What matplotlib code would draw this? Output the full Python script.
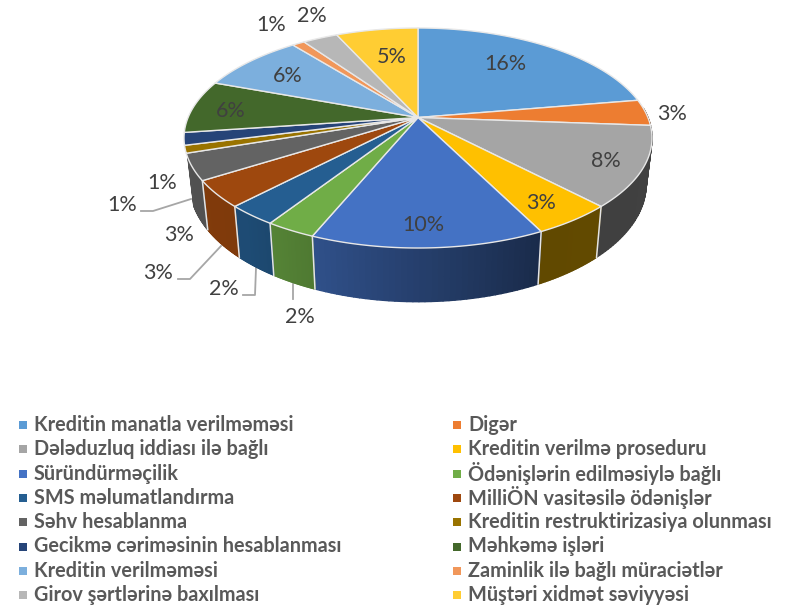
import matplotlib
matplotlib.use('Agg')
import matplotlib.pyplot as plt
import numpy as np
from matplotlib.collections import PolyCollection
from matplotlib.colors import to_rgb

plt.rcParams['font.family'] = ['Lato', 'Open Sans', 'DejaVu Sans']

# data, clockwise from 12 o'clock
categories = ['Kreditin manatla verilməməsi', 'Digər', 'Dələduzluq iddiası ilə bağlı',
              'Kreditin verilmə proseduru', 'Süründürməçilik', 'Ödənişlərin edilməsiylə bağlı',
              'SMS məlumatlandırma', 'MilliÖN vasitəsilə ödənişlər', 'Səhv hesablanma',
              'Kreditin restruktirizasiya olunması', 'Gecikmə cəriməsinin hesablanması',
              'Məhkəmə işləri', 'Kreditin verilməməsi', 'Zaminlik ilə bağlı müraciətlər',
              'Girov şərtlərinə baxılması', 'Müştəri xidmət səviyyəsi']
values = [16.05, 2.76, 8.44, 3.4, 9.76, 2.1, 2.14, 2.8, 2.78, 0.8, 1.32, 5.6, 6.24, 0.74, 2.08, 4.88]
colors = ['#5B9BD5', '#ED7D31', '#A5A5A5', '#FFC000', '#4472C4', '#70AD47', '#255E91', '#9E480E',
          '#636363', '#997300', '#264478', '#43682B', '#7CAFDD', '#F1975A', '#B7B7B7', '#FFCD33']

# pixel position of each percent label
label_x = [505, 672, 606, 541, 423, 300, 224, 158, 179, 122, 162, 231, 288, 271, 312, 392]
label_y = [64, 114, 161, 203, 225, 317, 289, 273, 235, 205, 183, 111, 76, 25, 16, 57]

# leader lines
leaders = [[(293, 284), (293, 299)],
           [(256, 268), (255, 295), (243, 295)],
           [(221, 246), (190, 279), (178, 279)],
           [(191, 199), (153, 211), (141, 211)]]

# the top of the pie is a tilted circle seen in perspective
cx, cy = 418, 138
ry = 110
shift = 20.5
k = shift / ry
c = 229.9

def top_xy(theta):
    x, y = np.cos(theta), np.sin(theta)
    return c * x / (1 + k * y), (ry * y + shift) / (1 + k * y)

def to_px(X, Y):
    return cx + X, cy - Y

def bottom_xy(theta):
    X, Y = top_xy(theta)
    return X * 0.975, Y * 1.07 - 46

fig = plt.figure(figsize=(7.85, 6.06), dpi=100, facecolor='white')
ax = fig.add_axes([0, 0, 1, 1])
ax.set_xlim(0, 785)
ax.set_ylim(606, 0)
ax.axis('off')

total = sum(values)
edges = np.pi / 2 - 2 * np.pi * np.cumsum([0] + values) / total

# side of the pie, darker towards the right
shade_deg = [-165, -130, -112, -64, 0]
shade_val = [0.83, 0.80, 0.70, 0.38, 0.40]
side_from, side_to = -159, 5

for i in range(len(values)):
    t = np.linspace(edges[i], edges[i + 1], 40)
    polys, cols = [], []
    base = np.array(to_rgb(colors[i]))
    for a, b in zip(t[:-1], t[1:]):
        deg = np.degrees((a + b) / 2)
        if deg < side_from or deg > side_to:
            continue
        polys.append([to_px(*top_xy(a)), to_px(*top_xy(b)), to_px(*bottom_xy(b)), to_px(*bottom_xy(a))])
        cols.append(base * np.interp(deg, shade_deg, shade_val))
    if polys:
        ax.add_collection(PolyCollection(polys, facecolors=cols, edgecolors=cols, linewidths=1.0, zorder=2))

# white seams between the side pieces
for e in edges[1:]:
    if side_from < np.degrees(e) < -5:
        p1 = to_px(*top_xy(e))
        p2 = to_px(*bottom_xy(e))
        ax.plot([p1[0], p2[0]], [p1[1], p2[1]], color='#E4E4E4', lw=1.1, zorder=3)

# top face
apex = to_px(0, shift)
for i in range(len(values)):
    t = np.linspace(edges[i], edges[i + 1], 80)
    xs, ys = to_px(*top_xy(t))
    ax.fill(np.r_[apex[0], xs], np.r_[apex[1], ys], facecolor=colors[i], edgecolor='#E8E8E8', lw=1.0, zorder=4, joinstyle='round')

# percent labels
for v, x, y in zip(values, label_x, label_y):
    ax.text(x, y, f'{v:.0f}%', ha='center', va='center', fontsize=15.5, color='#404040', zorder=6)

for line in leaders:
    ax.plot([p[0] for p in line], [p[1] for p in line], color='#A6A6A6', lw=1.3, zorder=1)

# legend, two columns, row by row
col_x = [23, 457]
row_y = 425
row_step = 24.3
for i, name in enumerate(categories):
    lx = col_x[i % 2]
    ly = row_y + (i // 2) * row_step
    ax.scatter([lx], [ly], marker='s', s=30, color=colors[i], linewidths=0, zorder=6)
    ax.text(lx + 11, ly, name, ha='left', va='center', fontsize=14.3, fontweight='bold', color='#595959', zorder=6)

fig.savefig('out.png', dpi=100)
